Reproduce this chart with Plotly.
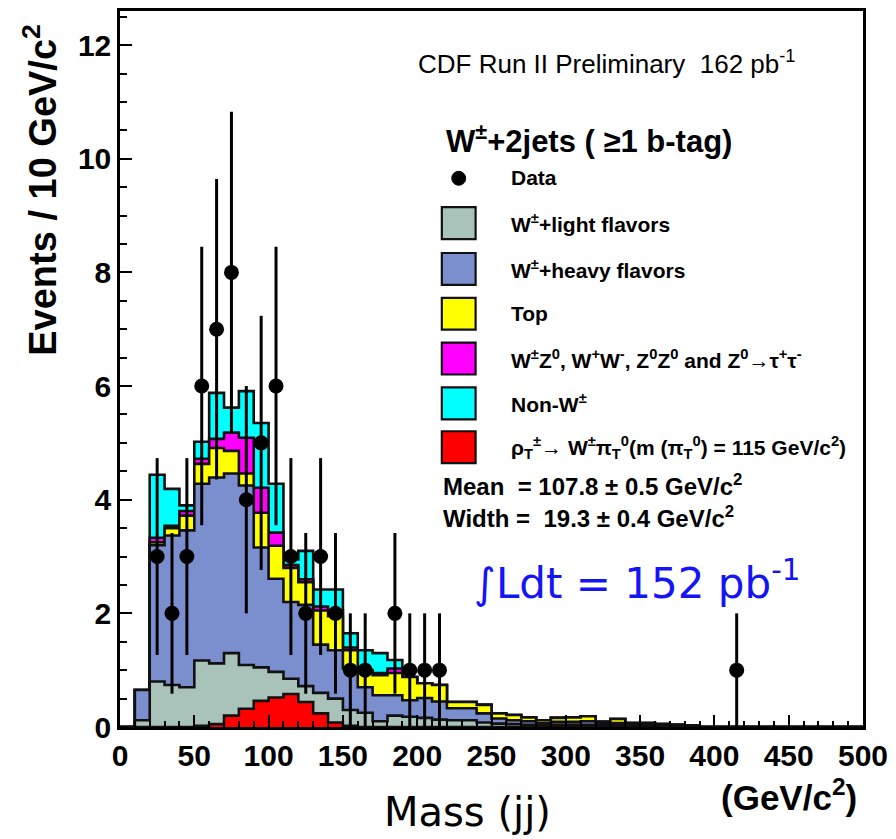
import numpy as np
import plotly.graph_objects as go

# ---- binning: 10 GeV/c^2 bins from 0 to 500 ----
bin_edges = list(range(0, 510, 10))

# ---- per-bin expected contributions (events / 10 GeV/c^2); bins not listed are empty ----
w_light = [0.00, 0.12, 0.80, 0.74, 0.70, 1.17, 1.12, 1.30, 1.09, 1.05,
           0.97, 0.85, 0.72, 0.60, 0.50, 0.30, 0.25, 0.10, 0.20, 0.18,
           0.16, 0.13, 0.12, 0.12, 0.08, 0.06, 0.05, 0.04, 0.03, 0.04,
           0.04, 0.04, 0.02, 0.03, 0.02, 0.02, 0.01, 0.01, 0.01, 0.00]
w_heavy = [0.00, 0.53, 2.40, 2.63, 2.76, 3.11, 3.27, 3.16, 3.16, 2.11,
           1.64, 1.35, 1.43, 0.85, 0.85, 0.73, 0.45, 0.46, 0.36, 0.29,
           0.35, 0.32, 0.21, 0.21, 0.16, 0.09, 0.07, 0.06, 0.04, 0.05,
           0.05, 0.06, 0.03, 0.04, 0.02, 0.02, 0.02, 0.01, 0.01, 0.00]
top = [0.00, 0.00, 0.05, 0.13, 0.26, 0.35, 0.52, 0.40, 0.21, 0.61,
       0.58, 0.60, 0.40, 0.60, 0.60, 0.32, 0.25, 0.35, 0.39, 0.41,
       0.26, 0.29, 0.11, 0.11, 0.15, 0.09, 0.09, 0.07, 0.05, 0.07,
       0.08, 0.09, 0.04, 0.07, 0.03, 0.03, 0.02, 0.02, 0.01, 0.00]
diboson = [0.00, 0.00, 0.08, 0.04, 0.08, 0.09, 0.16, 0.32, 0.63, 0.44,
           0.23, 0.05, 0.05, 0.07, 0.10, 0.05, 0.05, 0.04, 0.08]
non_w = [0.00, 0.00, 1.11, 0.65, 0.10, 0.30, 0.81, 0.44, 0.82, 1.14,
         0.86, 0.10, 0.50, 0.30, 0.37, 0.25, 0.35, 0.35, 0.15]
# technicolor signal, drawn on its own from zero
signal = [0.00, 0.00, 0.00, 0.00, 0.00, 0.02, 0.05, 0.20, 0.32, 0.46,
          0.52, 0.58, 0.44, 0.24, 0.08, 0.02]

# ---- observed events per bin (only non-empty bins listed) ----
data_bin_index = [2, 3, 4, 5, 6, 7, 8, 9, 10, 11, 12, 13, 14, 15, 16, 18, 19, 20, 21, 41]
data_counts = [3, 2, 3, 6, 7, 8, 4, 5, 6, 3, 2, 3, 2, 1, 1, 2, 1, 1, 1, 1]

# ---- colours ----
COL_LIGHT = "#a9c3bb"
COL_HEAVY = "#7b8ecd"
COL_TOP = "#ffff00"
COL_DIBOSON = "#ff00ff"
COL_NONW = "#00ffff"
COL_SIGNAL = "#ff0000"
EDGE = "#111111"

nbins = len(bin_edges) - 1


def pad(values):
    arr = np.zeros(nbins)
    arr[:len(values)] = values
    return arr


def step_xy(values):
    """Outline of a histogram as an 'hv' step path closed down to zero."""
    xs = [bin_edges[0]]
    ys = [0.0]
    for i in range(nbins):
        xs.append(bin_edges[i])
        ys.append(float(values[i]))
    xs += [bin_edges[-1], bin_edges[-1]]
    ys += [float(values[-1]), 0.0]
    return xs, ys


layers = [pad(w_light), pad(w_heavy), pad(top), pad(diboson), pad(non_w)]
cumulative = np.cumsum(layers, axis=0)
layer_colors = [COL_LIGHT, COL_HEAVY, COL_TOP, COL_DIBOSON, COL_NONW]

fig = go.Figure()

# stacked histograms: largest cumulative first so each smaller one is drawn on top
for level in range(len(layers) - 1, -1, -1):
    xs, ys = step_xy(cumulative[level])
    fig.add_trace(go.Scatter(
        x=xs, y=ys, mode="lines", line=dict(shape="hv", color=EDGE, width=2.6),
        fill="tozeroy", fillcolor=layer_colors[level], showlegend=False, hoverinfo="skip"))

# signal overlay
xs, ys = step_xy(pad(signal))
fig.add_trace(go.Scatter(
    x=xs, y=ys, mode="lines", line=dict(shape="hv", color=EDGE, width=2.6),
    fill="tozeroy", fillcolor=COL_SIGNAL, showlegend=False, hoverinfo="skip"))

# data points with sqrt(N) errors
centers = [(bin_edges[i] + bin_edges[i + 1]) / 2 for i in data_bin_index]
fig.add_trace(go.Scatter(
    x=centers, y=data_counts, mode="markers",
    marker=dict(color="black", size=15),
    error_y=dict(type="data", array=np.sqrt(data_counts), visible=True,
                 color="black", thickness=3, width=0),
    showlegend=False, hoverinfo="skip"))

# ---- layout ----
W, H = 896, 839
ML, MR, MT, MB = 120, 28, 8, 112
PW, PH = W - ML - MR, H - MT - MB


def px(x):
    return (x - ML) / PW


def py(y):
    return (H - MB - y) / PH


BOLD = "Liberation Sans, Arial, sans-serif"

fig.update_layout(
    width=W, height=H, margin=dict(l=ML, r=MR, t=MT, b=MB),
    paper_bgcolor="white", plot_bgcolor="white",
    xaxis=dict(range=[0, 500], tickmode="array", tickvals=list(range(0, 501, 50)),
               ticks="inside", ticklen=12, tickwidth=2, tickcolor="black",
               minor=dict(dtick=10, ticks="inside", ticklen=6, tickwidth=1.5, tickcolor="black"),
               showline=True, linewidth=2.5, linecolor="black", mirror=True,
               showgrid=False, zeroline=False,
               tickfont=dict(family=BOLD, size=30, color="black", weight="bold")),
    yaxis=dict(range=[0, 12.6], tickmode="array", tickvals=list(range(0, 13, 2)),
               ticks="inside", ticklen=12, tickwidth=2, tickcolor="black",
               minor=dict(dtick=0.5, ticks="inside", ticklen=7, tickwidth=1.5, tickcolor="black"),
               showline=True, linewidth=2.5, linecolor="black", mirror=True,
               showgrid=False, zeroline=False,
               tickfont=dict(family=BOLD, size=30, color="black", weight="bold")),
)

ann = []


def text(x, y, s, size, bold=False, color="black", family=BOLD, xanchor="left", angle=0):
    ann.append(dict(x=px(x), y=py(y), xref="paper", yref="paper", text=s, showarrow=False,
                    xanchor=xanchor, yanchor="middle", textangle=angle,
                    font=dict(family=family, size=size, color=color,
                              weight="bold" if bold else "normal")))


text(40, 188, "Events / 10 GeV/c<sup>2</sup>", 38, bold=True, xanchor="center", angle=-90)
text(418, 60, "CDF Run II Preliminary  162 pb<sup>-1</sup>", 26)
text(446, 137, "W<sup>±</sup>+2jets ( ≥1 b-tag)", 31, bold=True)

legend_rows = [
    (175, None, "Data"),
    (221, COL_LIGHT, "W<sup>±</sup>+light flavors"),
    (267, COL_HEAVY, "W<sup>±</sup>+heavy flavors"),
    (312, COL_TOP, "Top"),
    (357, COL_DIBOSON, "W<sup>±</sup>Z<sup>0</sup>, W<sup>+</sup>W<sup>-</sup>, Z<sup>0</sup>Z<sup>0</sup> and Z<sup>0</sup>→τ<sup>+</sup>τ<sup>-</sup>"),
    (402, COL_NONW, "Non-W<sup>±</sup>"),
    (446, COL_SIGNAL, "ρ<sub>T</sub><sup>±</sup>→ W<sup>±</sup>π<sub>T</sub><sup>0</sup>(m (π<sub>T</sub><sup>0</sup>) = 115 GeV/c<sup>2</sup>)"),
]
shapes = []
for yc, col, label in legend_rows:
    if col is None:
        shapes.append(dict(type="circle", xref="paper", yref="paper",
                           x0=px(454), x1=px(468), y0=py(183), y1=py(169),
                           fillcolor="black", line=dict(color="black", width=1)))
    else:
        shapes.append(dict(type="rect", xref="paper", yref="paper",
                           x0=px(444), x1=px(478), y0=py(yc + 16), y1=py(yc - 16),
                           fillcolor=col, line=dict(color=EDGE, width=2.2)))
    text(512, yc, label, 21, bold=True)

text(443, 484, "Mean  = 107.8 ± 0.5 GeV/c<sup>2</sup>", 24, bold=True)
text(443, 516, "Width =  19.3 ± 0.4 GeV/c<sup>2</sup>", 24, bold=True)
text(474, 580, "∫Ldt = 152 pb<sup>-1</sup>", 42, color="#1414f5", family="DejaVu Sans, Verdana, sans-serif")
text(470, 812, "Mass (jj)", 40, family="DejaVu Sans, Verdana, sans-serif", xanchor="center")
text(793, 795, "(GeV/c<sup>2</sup>)", 35, bold=True, xanchor="center")

fig.update_layout(annotations=ann, shapes=shapes)
fig.write_html("out.html")
